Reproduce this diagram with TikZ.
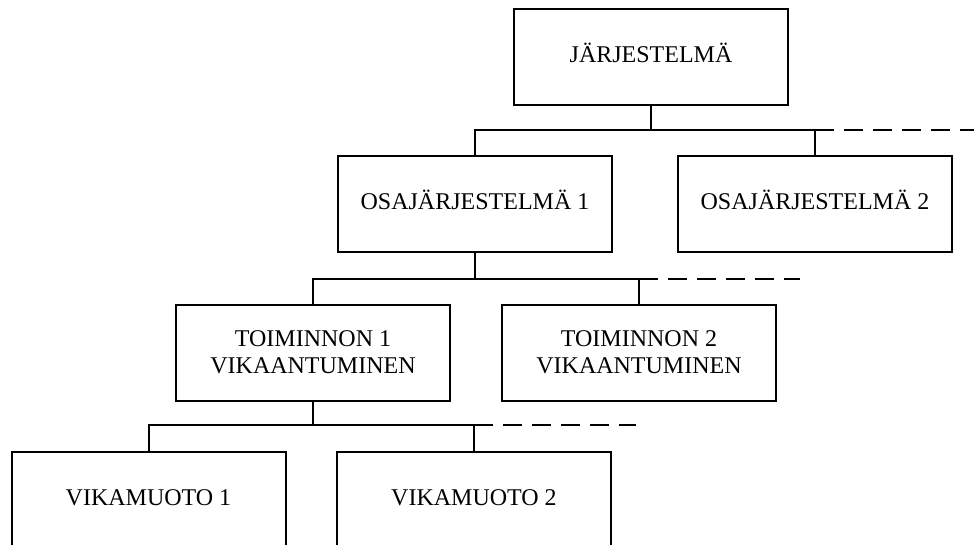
\documentclass[tikz,border=0pt]{standalone}
\usepackage{fontspec}
\setmainfont{Liberation Serif}
\begin{document}
\tikzset{
  blk/.style={draw, line width=2pt, minimum width=274pt, minimum height=96pt,
    inner sep=0pt, align=center, font=\fontsize{24}{27}\selectfont},
  oneline/.style={blk, text height=11pt, text depth=0pt},
  bus/.style={line width=2pt},
  more/.style={line width=2pt, dash pattern=on 19pt off 10pt},
}
\begin{tikzpicture}[x=1pt,y=-1pt]
\clip (0,0) rectangle (974,545);

% boxes of the hierarchy
\node[oneline] (sys)  at (651,57.5)  {JÄRJESTELMÄ};
\node[oneline] (sub1) at (475,204.5) {OSAJÄRJESTELMÄ 1};
\node[oneline] (sub2) at (815,204.5) {OSAJÄRJESTELMÄ 2};
\node[blk]     (fn1)  at (313,352.5) {TOIMINNON 1\\VIKAANTUMINEN};
\node[blk]     (fn2)  at (639,352.5) {TOIMINNON 2\\VIKAANTUMINEN};
\node[oneline] (fm1)  at (148.5,499.5) {VIKAMUOTO 1};
\node[oneline] (fm2)  at (474,499.5)   {VIKAMUOTO 2};

% bus levels and the ends of the open (dashed) continuations
\coordinate (b1) at (0,130);
\coordinate (b2) at (0,279);
\coordinate (b3) at (0,425);
\coordinate (e1) at (974,130);
\coordinate (e2) at (800,279);
\coordinate (e3) at (636,425);

% level 1
\draw[bus] (sys.south) -- (sys.south |- b1);
\draw[bus] (sub1.north) |- (sub2.north |- b1) -- (sub2.north);
\draw[more] (sub2.north |- b1) -- (e1);

% level 2
\draw[bus] (sub1.south) -- (sub1.south |- b2);
\draw[bus] (fn1.north) |- (fn2.north |- b2) -- (fn2.north);
\draw[more] (fn2.north |- b2) -- (e2);

% level 3
\draw[bus] (fn1.south) -- (fn1.south |- b3);
\draw[bus] (fm1.north) |- (fm2.north |- b3) -- (fm2.north);
\draw[more] (fm2.north |- b3) -- (e3);
\end{tikzpicture}
\end{document}
